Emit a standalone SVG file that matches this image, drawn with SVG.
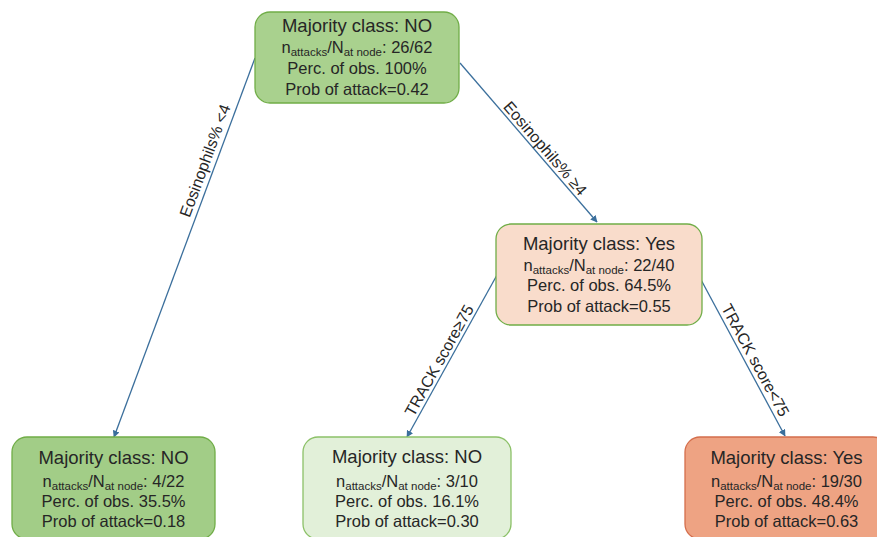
<svg xmlns="http://www.w3.org/2000/svg" width="877" height="537" viewBox="0 0 877 537">
<style>
.box{stroke-width:1.3}
.t{font-family:"Liberation Sans",Arial,sans-serif;fill:#262626;text-anchor:middle}
.h{font-size:18.5px}
.b{font-size:16.5px}
.s{font-size:11.5px}
.lbl{font-family:"Liberation Sans",Arial,sans-serif;fill:#262626;font-size:16px;text-anchor:middle}
.edge{stroke:#3b6f9c;stroke-width:1.3;fill:none;marker-end:url(#arr)}
</style>
<defs>
<marker id="arr" viewBox="0 0 10 10" refX="9" refY="5" markerWidth="7" markerHeight="7" markerUnits="userSpaceOnUse" orient="auto">
<path d="M0,0 L10,5 L0,10 z" fill="#3b6f9c"/>
</marker>
</defs>
<rect width="877" height="537" fill="#ffffff"/>
<g id="connectors">
<line class="edge" x1="255" y1="58" x2="114" y2="437"/>
<line class="edge" x1="460" y1="63" x2="597" y2="222"/>
<line class="edge" x1="497" y1="275" x2="407" y2="437"/>
<line class="edge" x1="699" y1="276" x2="785" y2="436"/>
<text class="lbl" transform="translate(214,164) rotate(-69.6)" y="-4">Eosinophils% &lt;4</text>
<text class="lbl" transform="translate(538,154.5) rotate(49.2)" y="-4">Eosinophils% ≥4</text>
<text class="lbl" transform="translate(447.5,365) rotate(-60.9)" y="-4">TRACK score≥75</text>
<text class="lbl" transform="translate(747,364.7) rotate(61.7)" y="-4">TRACK score&lt;75</text>
</g>
<g id="root">
<rect class="box" x="255" y="12" width="204" height="91" rx="15" fill="#a9d18e" stroke="#70ad47"/>
<text class="t h" x="357" y="32">Majority class: NO</text>
<text class="t b" x="357" y="53">n<tspan class="s" dy="3">attacks</tspan><tspan dy="-3">/N</tspan><tspan class="s" dy="3">at node</tspan><tspan dy="-3">: 26/62</tspan></text>
<text class="t b" x="357" y="74">Perc. of obs. 100%</text>
<text class="t b" x="357" y="95">Prob of attack=0.42</text>
</g>
<g id="mid">
<rect class="box" x="496" y="224" width="206" height="101" rx="15" fill="#f9dccb" stroke="#70ad47"/>
<text class="t h" x="599" y="250">Majority class: Yes</text>
<text class="t b" x="599" y="271">n<tspan class="s" dy="3">attacks</tspan><tspan dy="-3">/N</tspan><tspan class="s" dy="3">at node</tspan><tspan dy="-3">: 22/40</tspan></text>
<text class="t b" x="599" y="291">Perc. of obs. 64.5%</text>
<text class="t b" x="599" y="312">Prob of attack=0.55</text>
</g>
<g id="leafLeft">
<rect class="box" x="12" y="437" width="203" height="102" rx="15" fill="#a2cd87" stroke="#70ad47"/>
<text class="t h" x="113.5" y="464">Majority class: NO</text>
<text class="t b" x="113.5" y="487">n<tspan class="s" dy="3">attacks</tspan><tspan dy="-3">/N</tspan><tspan class="s" dy="3">at node</tspan><tspan dy="-3">: 4/22</tspan></text>
<text class="t b" x="113.5" y="507">Perc. of obs. 35.5%</text>
<text class="t b" x="113.5" y="527">Prob of attack=0.18</text>
</g>
<g id="leafMid">
<rect class="box" x="303" y="437" width="208" height="102" rx="15" fill="#e2f0d9" stroke="#8cc168"/>
<text class="t h" x="407" y="463">Majority class: NO</text>
<text class="t b" x="407" y="487">n<tspan class="s" dy="3">attacks</tspan><tspan dy="-3">/N</tspan><tspan class="s" dy="3">at node</tspan><tspan dy="-3">: 3/10</tspan></text>
<text class="t b" x="407" y="507">Perc. of obs. 16.1%</text>
<text class="t b" x="407" y="527">Prob of attack=0.30</text>
</g>
<g id="leafRight">
<rect class="box" x="685" y="437" width="203" height="102" rx="15" fill="#eea383" stroke="#d46e4c"/>
<text class="t h" x="786.5" y="464">Majority class: Yes</text>
<text class="t b" x="786.5" y="487">n<tspan class="s" dy="3">attacks</tspan><tspan dy="-3">/N</tspan><tspan class="s" dy="3">at node</tspan><tspan dy="-3">: 19/30</tspan></text>
<text class="t b" x="786.5" y="507">Perc. of obs. 48.4%</text>
<text class="t b" x="786.5" y="527">Prob of attack=0.63</text>
</g>
</svg>
